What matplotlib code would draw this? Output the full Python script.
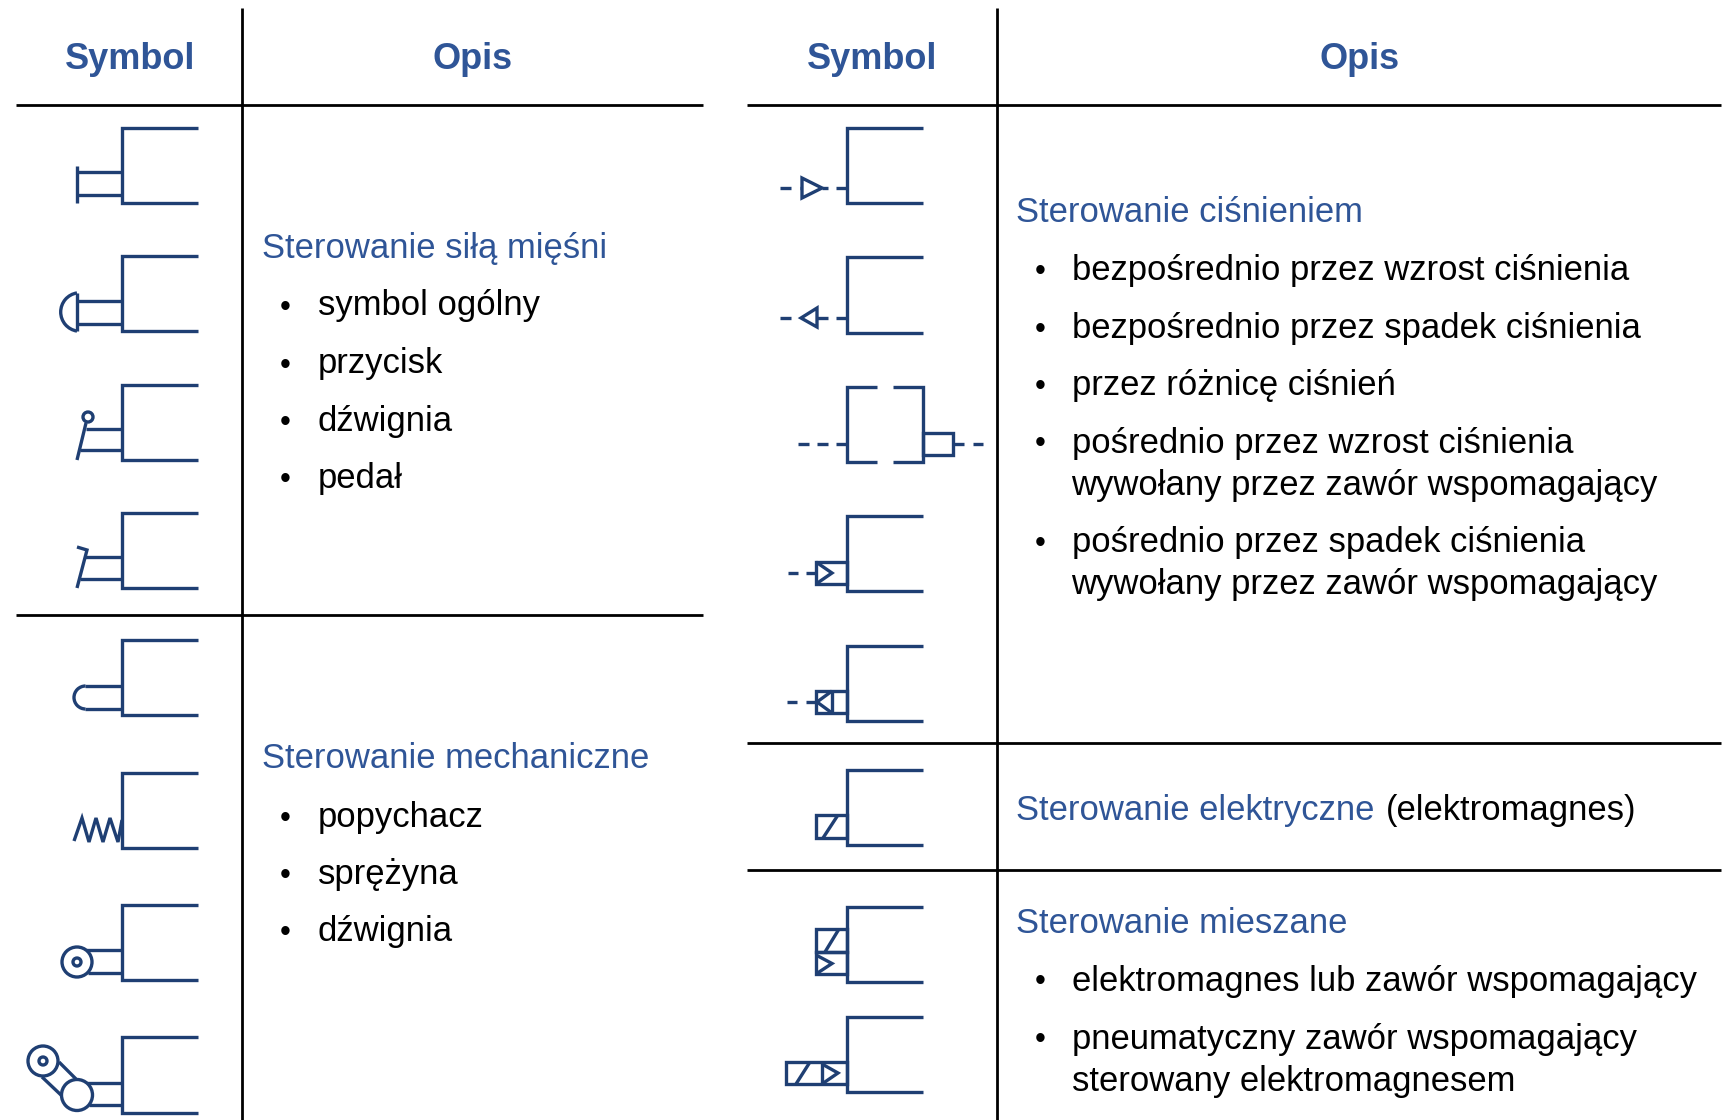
import matplotlib
matplotlib.use("Agg")
import matplotlib.pyplot as plt
from matplotlib.patches import Circle, Arc, Polygon, Rectangle

W, H = 1723, 1120
NAVY = '#1f3f73'
BLUE = '#2f5597'
BLACK = '#000000'
FONT = 'Liberation Sans'
BODY = 24.9
HEAD = 26.0
LW = 2.4

headers = [('Symbol', 130), ('Opis', 473), ('Symbol', 872), ('Opis', 1360)]

left_sections = [
    ('Sterowanie siłą mięśni', 258, [('symbol ogólny', 315.5), ('przycisk', 373.5),
                                      ('dźwignia', 431), ('pedał', 488)]),
    ('Sterowanie mechaniczne', 768, [('popychacz', 827), ('sprężyna', 884), ('dźwignia', 941)]),
]
right_sections = [
    ('Sterowanie ciśnieniem', 221.5, [
        ('bezpośrednio przez wzrost ciśnienia', 280),
        ('bezpośrednio przez spadek ciśnienia', 338),
        ('przez różnicę ciśnień', 395),
        ('pośrednio przez wzrost ciśnienia\nwywołany przez zawór wspomagający', 452.5),
        ('pośrednio przez spadek ciśnienia\nwywołany przez zawór wspomagający', 552)]),
    ('Sterowanie mieszane', 933, [
        ('elektromagnes lub zawór wspomagający', 990.5),
        ('pneumatyczny zawór wspomagający\nsterowany elektromagnesem', 1048.5)]),
]

left_brackets = [(128, 203), (256, 331), (385, 460), (513, 588),
                 (640, 715), (773, 848), (905, 980), (1037, 1113)]
right_brackets = [(128, 203), (257, 333), (516, 591), (646, 721),
                  (770, 845), (907, 982), (1017, 1092)]

fig = plt.figure(figsize=(W / 100, H / 100), dpi=100, facecolor='white')
ax = fig.add_axes([0, 0, 1, 1])
ax.set_xlim(0, W)
ax.set_ylim(H, 0)
ax.axis('off')


def rule(x0, y0, x1, y1):
    ax.plot([x0, x1], [y0, y1], color=BLACK, lw=2.0, solid_capstyle='butt')


def ln(*pts, lw=LW):
    xs, ys = zip(*pts)
    ax.plot(xs, ys, color=NAVY, lw=lw, solid_capstyle='butt', solid_joinstyle='miter')


def circ(x, y, r, lw=LW):
    ax.add_patch(Circle((x, y), r, fill=False, ec=NAVY, lw=lw))


def poly(*pts):
    ax.add_patch(Polygon(pts, closed=True, fill=False, ec=NAVY, lw=LW, joinstyle='miter'))


def rect(x0, y0, x1, y1):
    ax.add_patch(Rectangle((x0, y0), x1 - x0, y1 - y0, fill=False, ec=NAVY, lw=LW))


def bracket(x0, x1, top, bottom):
    ln((x1, top), (x0, top), (x0, bottom), (x1, bottom))


def dashes(y, *spans):
    for a, b in spans:
        ln((a, y), (b, y))


# table rules
rule(242, 8, 242, H)
rule(997, 8, 997, H)
rule(16, 105, 703, 105)
rule(747, 105, 1721, 105)
rule(16, 615, 703, 615)
rule(747, 743, 1721, 743)
rule(747, 870, 1721, 870)

# headers
for label, x in headers:
    ax.text(x, 59.5, label, family=FONT, fontsize=HEAD, fontweight='bold', color=BLUE,
            ha='center', va='center')


def section(title, y, items, xh, xb, xt):
    ax.text(xh, y, title, family=FONT, fontsize=BODY, color=BLUE, va='baseline')
    for txt, yi in items:
        ax.text(xb, yi, '•', family=FONT, fontsize=BODY * 0.9, color=BLACK, ha='center', va='baseline')
        parts = txt.split('\n')
        for k, p in enumerate(parts):
            ax.text(xt, yi + k * 42, p, family=FONT, fontsize=BODY, color=BLACK, va='baseline')


for t, y, items in left_sections:
    section(t, y, items, 261.5, 285.5, 317.5)
for t, y, items in right_sections:
    section(t, y, items, 1016.5, 1040, 1071.5)
ax.text(1016.5, 820, 'Sterowanie elektryczne', family=FONT, fontsize=BODY, color=BLUE, va='baseline')
ax.text(1385.5, 820, '(elektromagnes)', family=FONT, fontsize=BODY, color=BLACK, va='baseline')

# brackets
for top, bottom in left_brackets:
    bracket(122, 198, top, bottom)
for top, bottom in right_brackets:
    bracket(847, 923, top, bottom)

# left symbols
ln((77, 172), (122, 172)); ln((77, 195), (122, 195)); ln((77, 166), (77, 203))

ln((77, 301), (122, 301)); ln((77, 324), (122, 324)); ln((77, 293), (77, 331))
ax.add_patch(Arc((80, 312), 38.6, 38.6, theta1=99, theta2=261, ec=NAVY, lw=LW))

ln((77, 460), (86, 423)); circ(88, 417, 5)
ln((86, 429), (122, 429)); ln((80, 450), (122, 450))

ln((77, 588), (87, 550), (77, 547))
ln((85, 557), (122, 557)); ln((80, 579), (122, 579))

ln((122, 686), (85, 686)); ln((122, 709), (85, 709))
ax.add_patch(Arc((85.5, 697.5), 23, 23, theta1=90, theta2=270, ec=NAVY, lw=LW))

ln((74, 841), (82, 818), (89, 842), (96, 818), (103, 842), (110, 818), (118, 842), (122, 820))

circ(77, 962, 15); circ(77, 962, 4)
ln((86, 950), (122, 950)); ln((88, 973), (122, 973))

circ(77, 1095, 15.5); circ(43, 1061, 15); circ(43, 1061, 4)
ln((59, 1062), (76, 1079)); ln((42, 1077), (61, 1095))
ln((87, 1083), (122, 1083)); ln((89, 1105), (122, 1105))

# right symbols
poly((802, 178), (802, 198), (822, 188))
dashes(188, (780, 791), (800, 802), (822, 828), (836, 847))

poly((817, 308), (817, 327), (801, 318))
dashes(318, (780, 791), (817, 828), (836, 847))

ln((877, 387), (847, 387), (847, 462), (877, 462))
ln((893, 387), (923, 387), (923, 462), (893, 462))
rect(923, 433, 953, 455)
dashes(444, (798, 809), (817, 828), (836, 847), (953, 964), (973, 983))

rect(816, 562, 847, 584)
ln((816, 562), (832, 573), (816, 584))
dashes(573, (788, 798), (806, 816))

rect(816, 691, 847, 713)
ln((832, 691), (817, 702), (832, 713)); ln((832, 691), (832, 713))
dashes(702, (787, 797), (806, 816))

rect(816, 815, 847, 838)
ln((823, 838), (838, 815))

rect(816, 929, 847, 952); rect(816, 952, 847, 974)
ln((825, 952), (839, 929))
ln((816, 955), (832, 963.5), (816, 974))

rect(786, 1062, 847, 1084); ln((822, 1062), (822, 1084))
ln((796, 1084), (810, 1062))
ln((822, 1064), (838, 1073), (822, 1084))

fig.savefig('out.png', dpi=100, facecolor='white')
